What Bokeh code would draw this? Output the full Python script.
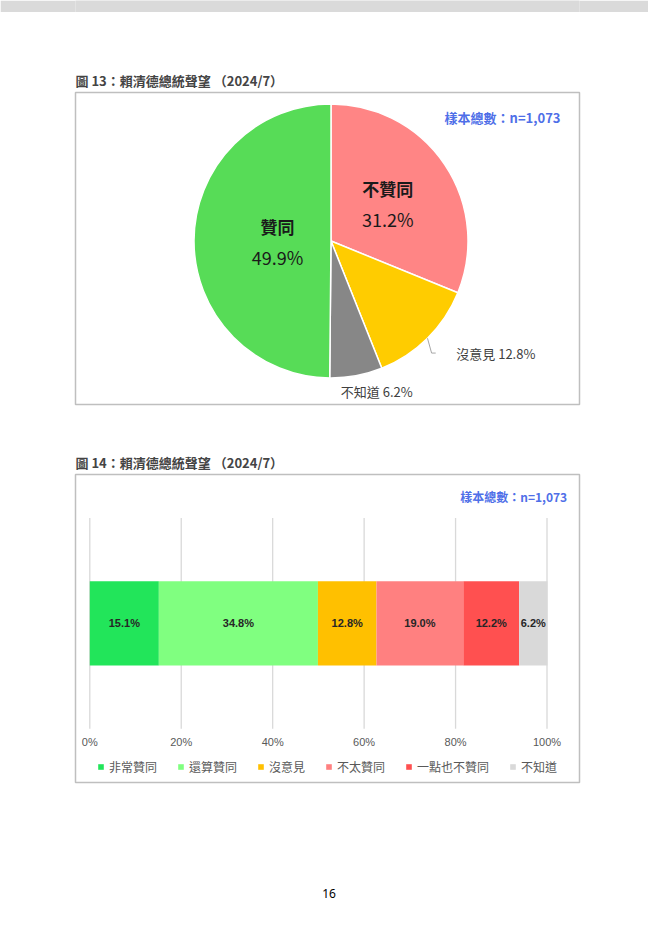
import math
from bokeh.plotting import figure
from bokeh.models import ColumnDataSource, Range1d
from bokeh.layouts import column
from bokeh.core.properties import value
from bokeh.embed import file_html
from bokeh.resources import INLINE

# ---------------- data ----------------
pie_title = "圖 13：賴清德總統聲望 （2024/7）"
bar_title = "圖 14：賴清德總統聲望 （2024/7）"
sample_note = "樣本總數：n=1,073"
page_number = "16"

pie_labels = ["不贊同", "沒意見", "不知道", "贊同"]
pie_values = [31.2, 12.8, 6.2, 49.9]

bar_categories = ["非常贊同", "還算贊同", "沒意見", "不太贊同", "一點也不贊同", "不知道"]
bar_values = [15.1, 34.8, 12.8, 19.0, 12.2, 6.2]

x_ticks = [0, 20, 40, 60, 80, 100]
x_tick_labels = ["0%", "20%", "40%", "60%", "80%", "100%"]

# ---------------- style ----------------
CJK = "Noto Sans CJK TC"
pie_colors = ["#FF8585", "#FFCC00", "#878787", "#57DC57"]
bar_colors = ["#22E55A", "#80FF80", "#FFC000", "#FF8080", "#FF5050", "#D9D9D9"]
BOX = "#BFBFBF"
BLUE = "#4F6FE8"
W = 648
LEFT = 75
FRAME_W = 504
RIGHT = W - LEFT - FRAME_W

# ---------------- top strip (viewer header) ----------------
STRIP_H = 12
strip = figure(width=W, height=STRIP_H, toolbar_location=None, output_backend="svg",
               x_axis_location=None, y_axis_location=None,
               min_border_left=LEFT, min_border_right=RIGHT,
               min_border_top=0, min_border_bottom=0,
               x_range=Range1d(0, 1), y_range=Range1d(0, 1))
strip.outline_line_color = None
strip.grid.visible = False
strip.background_fill_color = "#DADADA"
strip.border_fill_color = "#DADADA"

# ---------------- pie ----------------
R_PX = 137.0
pie_frame_h = 312
cx_off = 255.5 / R_PX
cy_off = 163.5 / R_PX
p1 = figure(width=W, height=440 - STRIP_H, toolbar_location=None, output_backend="svg",
            x_axis_location=None, y_axis_location=None,
            x_range=Range1d(-cx_off, -cx_off + FRAME_W / R_PX),
            y_range=Range1d(-cy_off, -cy_off + pie_frame_h / R_PX),
            min_border_left=LEFT, min_border_right=RIGHT, min_border_top=92 - STRIP_H,
            min_border_bottom=440 - 404)
p1.grid.visible = False
p1.outline_line_color = BOX
p1.outline_line_width = 1.5
p1.title.text = pie_title
p1.title.text_font = CJK
p1.title.text_font_size = "13px"
p1.title.text_font_style = "bold"
p1.title.align = "left"
p1.title.offset = 0
p1.title.standoff = 6

total = sum(pie_values)
starts, ends, mids = [], [], []
acc = 0.0
for v in pie_values:
    f0 = acc / total
    acc += v
    f1 = acc / total
    starts.append(math.pi / 2 - 2 * math.pi * f0)
    ends.append(math.pi / 2 - 2 * math.pi * f1)
    mids.append(2 * math.pi * (f0 + f1) / 2)

src = ColumnDataSource(dict(start=starts, end=ends, color=pie_colors))
p1.wedge(x=0, y=0, radius=1, start_angle="start", end_angle="end",
         direction="clock", fill_color="color", line_color="white",
         line_width=1.5, source=src)

pct = ["%.1f%%" % v for v in pie_values]
# inside labels (不贊同, 贊同)
inside = {0: 0.50, 3: 0.39}
for i, r in inside.items():
    lx = r * math.sin(mids[i])
    ly = r * math.cos(mids[i])
    p1.text(x=[lx], y=[ly], text=[pie_labels[i]], y_offset=-14,
            text_align="center", text_baseline="middle",
            text_font=value(CJK), text_font_size="17px", text_font_style="bold",
            text_color="#1A1A1A")
    p1.text(x=[lx], y=[ly], text=[pct[i]], y_offset=16,
            text_align="center", text_baseline="middle",
            text_font=value(CJK), text_font_size="18px", text_color="#1A1A1A")

# outside label with leader (沒意見)
i = 1
ex, ey = math.sin(mids[i]), math.cos(mids[i])
lab_y = -0.818
p1.line(x=[ex, ex + 0.03, ex + 0.06], y=[ey, lab_y, lab_y],
        line_color="#A6A6A6", line_width=1)
p1.text(x=[ex + 0.21], y=[lab_y], text=[pie_labels[i] + " " + pct[i]],
        text_align="left", text_baseline="middle",
        text_font=value(CJK), text_font_size="13px", text_color="#404040")
# outside label (不知道)
i = 2
p1.text(x=[math.sin(mids[i]) + 0.15], y=[-1.10],
        text=[pie_labels[i] + " " + pct[i]],
        text_align="center", text_baseline="middle",
        text_font=value(CJK), text_font_size="13px", text_color="#404040")
# sample size note
p1.text(x=[p1.x_range.end - 19 / R_PX], y=[p1.y_range.end - 25 / R_PX],
        text=[sample_note], text_align="right", text_baseline="middle",
        text_font=value(CJK), text_font_size="13px", text_font_style="bold",
        text_color=BLUE)

# ---------------- stacked bar ----------------
PX_X = 4.572
PX_Y = 84.3
bar_frame_h = 308
x0 = -(89.3 - 75) / PX_X
y0 = -(782 - 622.85) / PX_Y
p2 = figure(width=W, height=350, toolbar_location=None, output_backend="svg",
            x_axis_location=None, y_axis_location=None,
            x_range=Range1d(x0, x0 + FRAME_W / PX_X),
            y_range=Range1d(y0, y0 + bar_frame_h / PX_Y),
            min_border_left=LEFT, min_border_right=RIGHT, min_border_top=34,
            min_border_bottom=8)
p2.grid.visible = False
p2.outline_line_color = BOX
p2.outline_line_width = 1.5
p2.title.text = bar_title
p2.title.text_font = CJK
p2.title.text_font_size = "13px"
p2.title.text_font_style = "bold"
p2.title.align = "left"
p2.title.offset = 0
p2.title.standoff = 6

p2.segment(x0=x_ticks, y0=[-1.25] * len(x_ticks), x1=x_ticks, y1=[1.25] * len(x_ticks),
           line_color="#D9D9D9", line_width=1.3)
p2.text(x=x_ticks, y=[-1.413] * len(x_ticks), text=x_tick_labels,
        text_align="center", text_baseline="middle",
        text_font=value("Liberation Sans"), text_font_size="11px", text_color="#595959")

acc = 0.0
for cat, v, c in zip(bar_categories, bar_values, bar_colors):
    left = acc
    acc += v
    p2.hbar(y=[0], left=[left], right=[acc], height=1, fill_color=c,
            line_color=None, legend_label=cat)
    p2.text(x=[(left + acc) / 2], y=[0], text=["%.1f%%" % v],
            text_align="center", text_baseline="middle",
            text_font=value("Liberation Sans"), text_font_style="bold",
            text_font_size="11px", text_color="#262626")

p2.text(x=[(566.7 - 89.3) / PX_X], y=[(622.85 - 496) / PX_Y], text=[sample_note],
        text_align="right", text_baseline="middle",
        text_font=value(CJK), text_font_size="12px", text_font_style="bold",
        text_color=BLUE)

lg = p2.legend[0]
lg.orientation = "horizontal"
lg.location = (22, 7)
lg.glyph_width = 7
lg.glyph_height = 7
lg.label_standoff = 5
lg.spacing = 20
lg.padding = 0
lg.margin = 0
lg.border_line_alpha = 0
lg.background_fill_alpha = 0
lg.label_text_font = CJK
lg.label_text_font_size = "12px"
lg.label_text_color = "#595959"

# ---------------- footer (page number) ----------------
FOOT_H = 140
p3 = figure(width=W, height=FOOT_H, toolbar_location=None, output_backend="svg",
            x_axis_location=None, y_axis_location=None,
            x_range=Range1d(0, W), y_range=Range1d(FOOT_H, 0), min_border=0)
p3.grid.visible = False
p3.outline_line_color = None
p3.text(x=[326], y=[893 - 790], text=[page_number], text_align="center",
        text_baseline="middle", text_font=value("Noto Sans"),
        text_font_size="12px", text_color="#000000")

layout = column(strip, p1, p2, p3, spacing=0)
open("out.html", "w").write(file_html(layout, INLINE))
